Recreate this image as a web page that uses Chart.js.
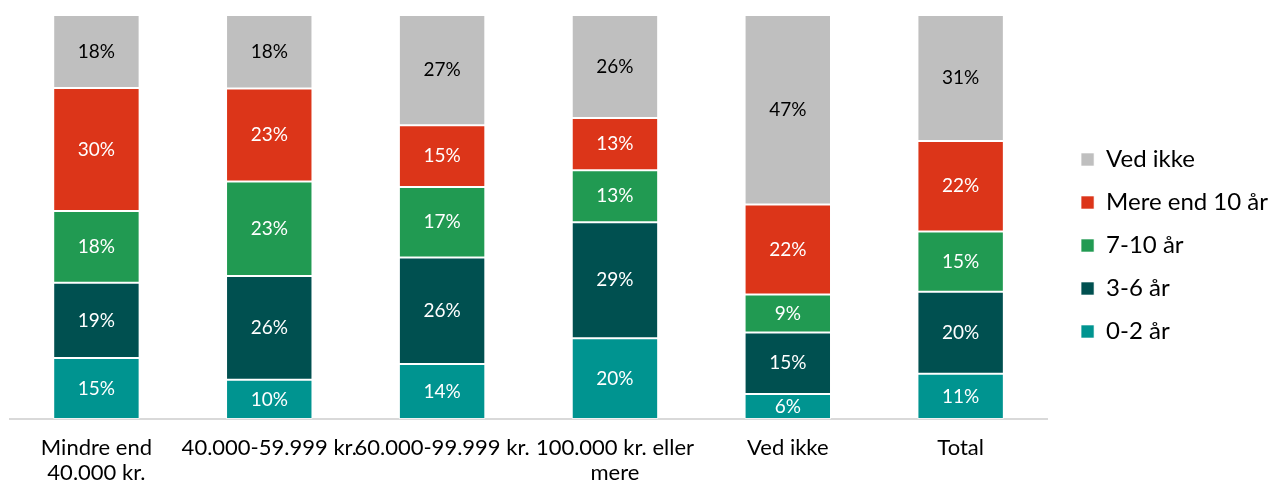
<!DOCTYPE html>
<html>
<head>
<meta charset="utf-8">
<script src="https://cdn.jsdelivr.net/npm/chart.js@4"></script>
<style>
    html, body { margin: 0; padding: 0; background: #fff; }
    #wrap { width: 1269px; height: 482px; position: relative; }
</style>
</head>
<body>
<div id="wrap"><canvas id="chart"></canvas></div>
<script>
// Categories (multi-line labels as in the original)
const categories = [
    ['Mindre end', '40.000 kr.'],
    '40.000-59.999 kr.',
    '60.000-99.999 kr.',
    ['100.000 kr. eller', 'mere'],
    'Ved ikke',
    'Total'
];

// Shares in percent, one array per answer
const years0to2 = [15.1, 9.7, 13.6, 20.0, 6.2, 11.2];
const years3to6 = [18.6, 25.7, 26.4, 28.7, 15.2, 20.3];
const years7to10 = [17.8, 23.4, 17.4, 12.9, 9.4, 14.9];
const yearsOver10 = [30.4, 23.0, 15.3, 12.9, 22.3, 22.4];
const dontKnow = [18.1, 18.2, 27.3, 25.5, 46.9, 31.2];

const seriesNames = ['0-2 år', '3-6 år', '7-10 år', 'Mere end 10 år', 'Ved ikke'];

const FONT = 'Lato, "Noto Sans", sans-serif';

// Draws the percentage inside each segment
const segmentLabels = {
    id: 'segmentLabels',
    afterDatasetsDraw(chart) {
        const ctx = chart.ctx;
        ctx.save();
        ctx.font = '19px ' + FONT;
        ctx.textAlign = 'center';
        ctx.textBaseline = 'middle';
        chart.data.datasets.forEach((ds, i) => {
            const meta = chart.getDatasetMeta(i);
            meta.data.forEach((bar, j) => {
                const p = bar.getCenterPoint();
                ctx.fillStyle = ds.labelColor;
                ctx.fillText(Math.round(ds.data[j]) + '%', p.x, p.y);
            });
        });
        ctx.restore();
    }
};

// Nudge the legend a bit to the right / up after layout
const legendNudge = {
    id: 'legendNudge',
    afterLayout(chart) {
        const lg = chart.legend;
        if (!lg) return;
        lg.left += 15;
        lg.right += 15;
        lg.top -= 3;
        lg.bottom -= 3;
    }
};

function makeSet(label, data, color, labelColor) {
    return {
        label: label,
        data: data,
        backgroundColor: color,
        borderColor: 'rgba(255,255,255,0.6)',
        borderWidth: 1,
        borderSkipped: false,
        labelColor: labelColor
    };
}

const ctx = document.getElementById('chart').getContext('2d');
new Chart(ctx, {
    type: 'bar',
    data: {
        labels: categories,
        datasets: [
            makeSet(seriesNames[0], years0to2, '#009490', '#fff'),
            makeSet(seriesNames[1], years3to6, '#005050', '#fff'),
            makeSet(seriesNames[2], years7to10, '#219a52', '#fff'),
            makeSet(seriesNames[3], yearsOver10, '#dc3519', '#fff'),
            makeSet(seriesNames[4], dontKnow, '#bfbfbf', '#000')
        ]
    },
    options: {
        responsive: true,
        maintainAspectRatio: false,
        animation: false,
        layout: { padding: { left: 10, top: 15, right: 6, bottom: 0 } },
        datasets: {
            bar: { categoryPercentage: 1, barPercentage: 0.5 }
        },
        scales: {
            x: {
                stacked: true,
                grid: { display: false },
                border: { color: '#d9d9d9', width: 2 },
                afterFit: (scale) => { scale.height = 63; },
                ticks: {
                    color: '#000',
                    font: { family: FONT, size: 22, lineHeight: 1.15 },
                    padding: 8,
                    maxRotation: 0,
                    autoSkip: false
                }
            },
            y: {
                stacked: true,
                display: false,
                min: 0,
                max: 100
            }
        },
        plugins: {
            legend: {
                position: 'right',
                reverse: true,
                labels: {
                    color: '#000',
                    font: { family: FONT, size: 24 },
                    boxWidth: 13,
                    boxHeight: 13,
                    padding: 19
                }
            },
            tooltip: { enabled: false }
        }
    },
    plugins: [segmentLabels, legendNudge]
});
</script>
</body>
</html>
